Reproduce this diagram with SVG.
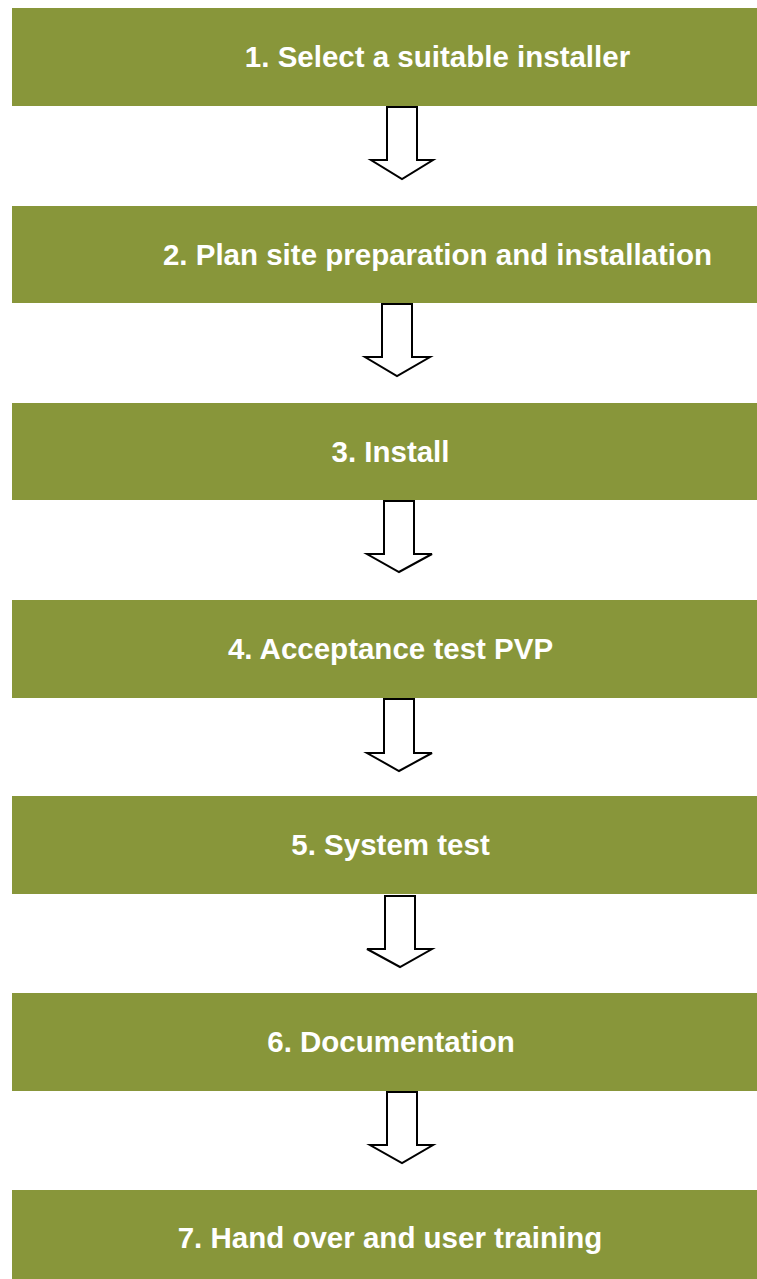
<svg xmlns="http://www.w3.org/2000/svg" width="757" height="1279" viewBox="0 0 757 1279">
<style>
.box{fill:#88963A}
.lbl{font-family:"Liberation Sans",Arial,sans-serif;font-weight:bold;font-size:29.5px;fill:#ffffff;text-anchor:middle}
.arr{fill:#ffffff;stroke:#000000;stroke-width:2;stroke-linejoin:miter}
</style>
<rect width="757" height="1279" fill="#ffffff"/>
<g id="node1"><rect class="box" x="12" y="8" width="745" height="98"/><text class="lbl" x="437.5" y="67">1. Select a suitable installer</text></g>
<g id="node2"><rect class="box" x="12" y="206" width="745" height="97"/><text class="lbl" x="437.5" y="264.5">2. Plan site preparation and installation</text></g>
<g id="node3"><rect class="box" x="12" y="403" width="745" height="97"/><text class="lbl" x="390.5" y="461.5">3. Install</text></g>
<g id="node4"><rect class="box" x="12" y="600" width="745" height="98"/><text class="lbl" x="390.5" y="658.5">4. Acceptance test PVP</text></g>
<g id="node5"><rect class="box" x="12" y="796" width="745" height="98"/><text class="lbl" x="390.5" y="854.5">5. System test</text></g>
<g id="node6"><rect class="box" x="12" y="993" width="745" height="98"/><text class="lbl" x="391" y="1051.5">6. Documentation</text></g>
<g id="node7"><rect class="box" x="12" y="1190" width="745" height="89"/><text class="lbl" x="390" y="1248">7. Hand over and user training</text></g>
<g id="connectors">
<polygon class="arr" points="387,107 417,107 417,160 433,160 402,179 371,160 387,160"/>
<polygon class="arr" points="382,304 412,304 412,357 430,357 397,376 365,357 382,357"/>
<polygon class="arr" points="384,501 414,501 414,554 432,554 399,572 367,554 384,554"/>
<polygon class="arr" points="384,699 414,699 414,753 432,753 399,771 367,753 384,753"/>
<polygon class="arr" points="385,896 415,896 415,949 432,949 400,967 367,949 385,949"/>
<polygon class="arr" points="387,1092 417,1092 417,1145 433,1145 402,1163 370,1145 387,1145"/>
</g>
</svg>
